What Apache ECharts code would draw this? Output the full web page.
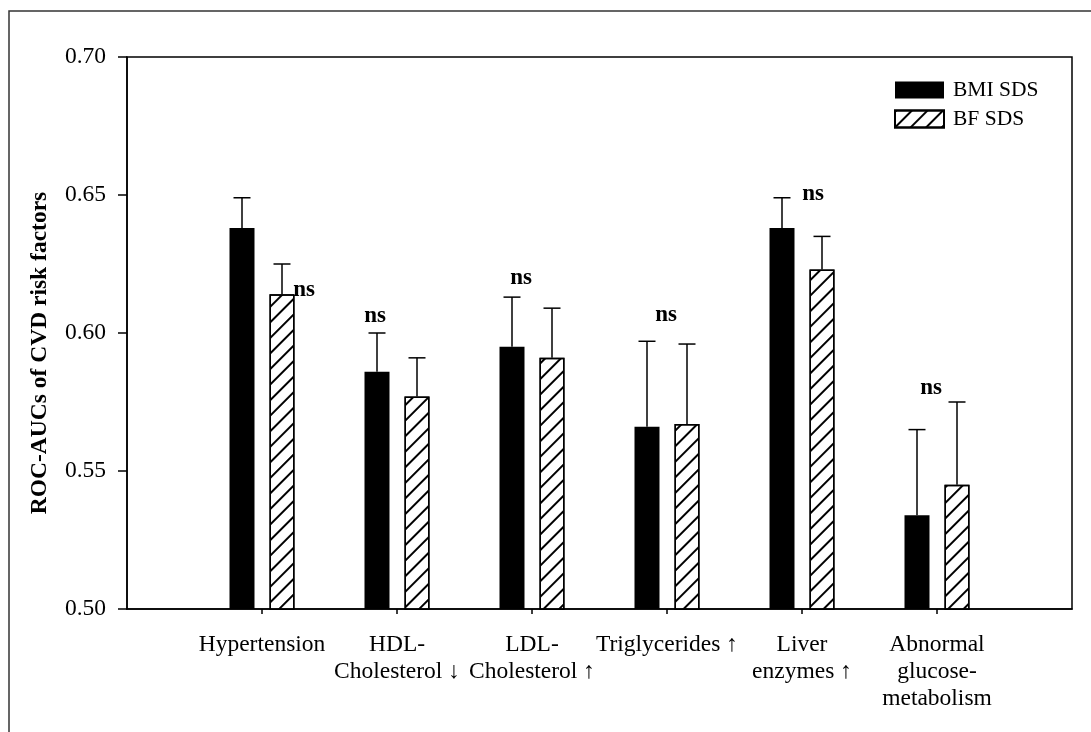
<!DOCTYPE html>
<html>
<head>
<meta charset="utf-8">
<script src="https://cdn.jsdelivr.net/npm/echarts@6/dist/echarts.min.js"></script>
<style>
html,body{margin:0;padding:0;background:#fff;}
#chart{width:1091px;height:732px;}
</style>
</head>
<body>
<div id="chart"></div>
<script>
// ---- data ----
const categories = ['Hypertension', 'HDL-\nCholesterol \u2193', 'LDL-\nCholesterol \u2191', 'Triglycerides \u2191', 'Liver\nenzymes \u2191', 'Abnormal\nglucose-\nmetabolism'];
const seriesNames = ['BMI SDS', 'BF SDS'];
const bmiSds = [0.638, 0.586, 0.595, 0.566, 0.638, 0.534];
const bmiUpper = [0.649, 0.600, 0.613, 0.597, 0.649, 0.565];
const bfSds = [0.614, 0.577, 0.591, 0.567, 0.623, 0.545];
const bfUpper = [0.625, 0.591, 0.609, 0.596, 0.635, 0.575];
const sigLabels = ['ns', 'ns', 'ns', 'ns', 'ns', 'ns'];
const sigAt = [0.6156, 0.6062, 0.6199, 0.6065, 0.6504, 0.5801];
const yMin = 0.50, yMax = 0.70, yStep = 0.05;

// ---- layout / style ----
const FONT = "'Liberation Serif','Times New Roman','DejaVu Serif',serif";
const barW = 25, gapPx = 15;
const off = (barW + gapPx) / 2;
const sigDx = [42, -22, -11, -1, 11, -6];

const axisCats = [''].concat(categories, ['']);
const pad = arr => [null].concat(arr, [null]);

const errData = (vals, ups) => vals.map((v, i) => [i + 1, v, ups[i]]);

function errRender(dx) {
  return function (params, api) {
    const p0 = api.coord([api.value(0), api.value(1)]);
    const p1 = api.coord([api.value(0), api.value(2)]);
    const x = p0[0] + dx;
    const st = { stroke: '#000', lineWidth: 1.5 };
    return {
      type: 'group',
      children: [
        { type: 'line', shape: { x1: x, y1: p0[1], x2: x, y2: p1[1] }, style: st },
        { type: 'line', shape: { x1: x - 8.5, y1: p1[1], x2: x + 8.5, y2: p1[1] }, style: st }
      ]
    };
  };
}

const chart = echarts.init(document.getElementById('chart'), null, { renderer: 'canvas' });
chart.setOption({
  animation: false,
  backgroundColor: '#fff',
  grid: { left: 127, right: 19, top: 57, bottom: 123, show: true, borderColor: '#000', borderWidth: 1.5, backgroundColor: 'transparent' },
  legend: {
    data: seriesNames,
    orient: 'vertical',
    left: 894, top: 79, padding: 0,
    itemWidth: 49, itemHeight: 17, itemGap: 7,
    icon: 'rect',
    textStyle: { fontFamily: FONT, fontSize: 21.5, color: '#000', padding: [0, 0, 0, 4] },
    selectedMode: false
  },
  xAxis: {
    type: 'category',
    data: axisCats,
    boundaryGap: false,
    axisLine: { lineStyle: { color: '#000', width: 1.5 } },
    axisTick: { show: true, length: 5, interval: (i) => i > 0 && i < axisCats.length - 1, lineStyle: { color: '#000', width: 1.5 } },
    axisLabel: { interval: (i) => i > 0 && i < axisCats.length - 1, fontFamily: FONT, fontSize: 23.5, color: '#000', margin: 22, lineHeight: 27, align: 'center' },
    splitLine: { show: false }
  },
  yAxis: {
    type: 'value',
    min: yMin, max: yMax, interval: yStep,
    axisLine: { show: true, lineStyle: { color: '#000', width: 1.5 } },
    axisTick: { show: true, inside: false, length: 9, lineStyle: { color: '#000', width: 1.5 } },
    axisLabel: { fontFamily: FONT, fontSize: 23.5, color: '#000', margin: 21, formatter: v => v.toFixed(2) },
    splitLine: { show: false }
  },
  graphic: [
    { type: 'rect', z: 100, shape: { x: 9, y: 11, width: 1300, height: 900 }, style: { fill: 'none', stroke: '#333', lineWidth: 1.5 }, silent: true },
    { type: 'text', x: 40, y: 353, rotation: Math.PI / 2, style: { text: 'ROC-AUCs of CVD risk factors', font: 'bold 23.5px ' + FONT, fill: '#000', textAlign: 'center', textVerticalAlign: 'middle' } }
  ],
  series: [
    {
      name: seriesNames[0], type: 'bar', data: pad(bmiSds), barWidth: barW, barGap: (gapPx / barW * 100) + '%',
      itemStyle: { color: '#000', borderColor: '#000', borderWidth: 0 }
    },
    {
      name: seriesNames[1], type: 'bar', data: pad(bfSds), barWidth: barW,
      itemStyle: {
        color: '#fff', borderColor: '#000', borderWidth: 1.5,
        decal: { symbol: 'rect', symbolSize: 1, color: '#000', backgroundColor: null, dashArrayX: [1, 0], dashArrayY: [1.5, 9], rotation: -Math.PI / 4 }
      }
    },
    { type: 'custom', name: 'errBMI', data: errData(bmiSds, bmiUpper), renderItem: errRender(-off), z: 5 },
    { type: 'custom', name: 'errBF', data: errData(bfSds, bfUpper), renderItem: errRender(off), z: 5 },
    {
      type: 'custom', name: 'sig', z: 6,
      data: sigAt.map((v, i) => [i + 1, v]),
      renderItem: function (params, api) {
        const p = api.coord([api.value(0), api.value(1)]);
        return { type: 'text', x: p[0] + sigDx[params.dataIndex], y: p[1], style: { text: sigLabels[params.dataIndex], font: 'bold 23px ' + FONT, fill: '#000', textAlign: 'center', textVerticalAlign: 'middle' } };
      }
    }
  ]
});
</script>
</body>
</html>
